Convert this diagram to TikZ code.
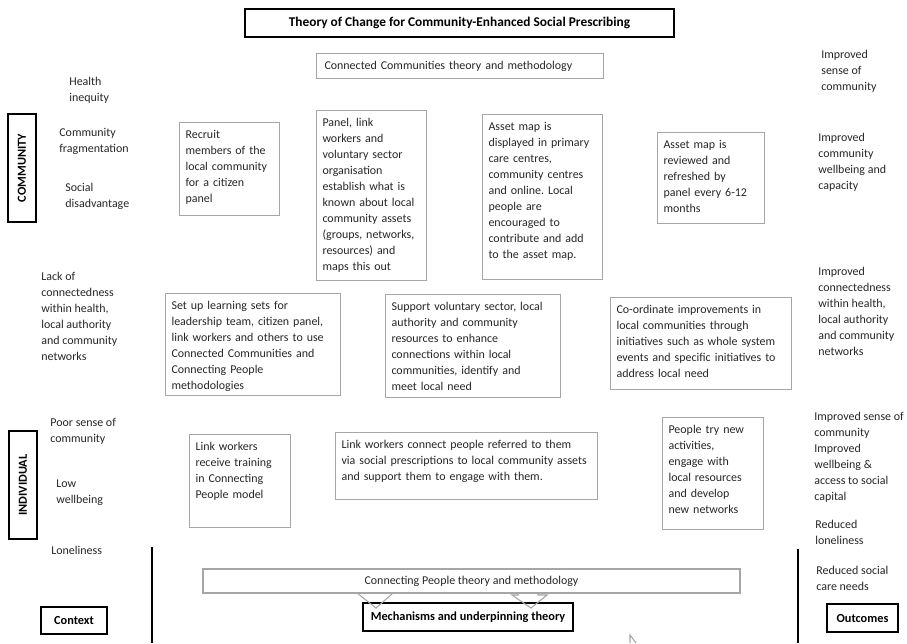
\documentclass[tikz,border=0pt]{standalone}
\usepackage{fontspec}
\setmainfont{Carlito}
\frenchspacing

\definecolor{boxgrey}{HTML}{A6A6A6}
\definecolor{inkgrey}{HTML}{262626}

\begin{document}
\begin{tikzpicture}
		[font=\fontsize{6.8}{9.1}\selectfont, text=inkgrey,
		block/.style ={rectangle, draw=boxgrey, line width=0.6pt, anchor=north west, align=left, inner xsep=0.12cm, inner ysep=0pt, text height=0.32cm},
		band/.style ={rectangle, draw=boxgrey, line width=0.6pt, minimum height=0.48cm},
		heading/.style ={rectangle, draw=black, line width=0.8pt, font=\fontsize{7}{9.1}\selectfont\bfseries, text=black, minimum height=0.56cm},
		level/.style = {heading, rotate=90, minimum width=2.16cm},
		factor/.style = {anchor=west, align=left, inner sep=0pt},
		arrowhead/.style = {draw=boxgrey, line width=0.6pt},
		divider/.style = {draw=black, line width=0.6pt},
		]

		\useasboundingbox (0,0) rectangle (18.14,-12.86);

		\draw (9.19,-0.46) node[heading, minimum width=8.58cm, font=\fontsize{7.6}{9.1}\selectfont\bfseries] (Title) {Theory of Change for Community-Enhanced Social Prescribing};
		\draw (6.32,-1.06) node[block, text width=5.50cm, text depth=0.18cm, inner xsep=0.12cm] (CCTheory) {\hspace{0.04cm}Connected Communities theory and methodology};

		\draw (0.44,-3.36) node[level] (Community) {COMMUNITY};
		\draw (0.46,-9.70) node[level] (Individual) {INDIVIDUAL};

		\draw (1.38,-1.80) node[factor] (inequity) {Health\\inequity};
		\draw (1.18,-2.82) node[factor] (fragmentation) {Community\\fragmentation};
		\draw (1.30,-3.92) node[factor] (disadvantage) {Social\\disadvantage};
		\draw (0.82,-6.32) node[factor] (disconnect) {Lack of\\connectedness\\within health,\\local authority\\and community\\networks};
		\draw (1.00,-8.63) node[factor] (poor-sense) {Poor sense of\\community};
		\draw (1.12,-9.86) node[factor] (low-wellbeing) {Low\\wellbeing};
		\draw (1.02,-11.00) node[factor] (loneliness) {Loneliness};

		\draw (3.58,-2.44) node[block, text width=1.76cm, text depth=1.54cm] (recruit) {Recruit\\members of the\\local community\\for a citizen\\panel};
		\draw (6.32,-2.20) node[block, text width=1.96cm, text depth=3.08cm] (map-out) {Panel, link\\workers and\\voluntary sector\\organisation\\establish what is\\known about local\\community assets\\(groups, networks,\\resources) and\\maps this out};
		\draw (9.64,-2.28) node[block, text width=2.16cm, text depth=2.98cm] (map-display) {Asset map is\\displayed in primary\\care centres,\\community centres\\and online. Local\\people are\\encouraged to\\contribute and add\\to the asset map.};
		\draw (13.14,-2.64) node[block, text width=1.90cm, text depth=1.50cm] (map-review) {Asset map is\\reviewed and\\refreshed by\\panel every 6-12\\months};

		\draw (3.30,-5.86) node[block, text width=3.26cm, text depth=1.72cm] (learning-sets) {Set up learning sets for\\leadership team, citizen panel,\\link workers and others to use\\Connected Communities and\\Connecting People\\methodologies};
		\draw (7.70,-5.88) node[block, text width=3.26cm, text depth=1.74cm] (support) {Support voluntary sector, local\\authority and community\\resources to enhance\\connections within local\\communities, identify and\\meet local need};
		\draw (12.20,-5.94) node[block, text width=3.38cm, text depth=1.52cm] (improvements) {Co-ordinate improvements in\\local communities through\\initiatives such as whole system\\events and specific initiatives to\\address local need};

		\draw (3.78,-8.68) node[block, text width=1.78cm, text depth=1.54cm] (training) {Link workers\\receive training\\in Connecting\\People model};
		\draw (6.70,-8.64) node[block, text width=5.00cm, text depth=1.02cm] (referral) {Link workers connect people referred to them\\via social prescriptions to local community assets\\and support them to engage with them.};
		\draw (13.24,-8.34) node[block, text width=1.78cm, text depth=1.92cm] (try-new) {People try new\\activities,\\engage with\\local resources\\and develop\\new networks};

		\draw (16.42,-1.42) node[factor] (sense) {Improved\\sense of\\community};
		\draw (16.36,-3.24) node[factor] (capacity) {Improved\\community\\wellbeing and\\capacity};
		\draw (16.36,-6.22) node[factor] (connectedness) {Improved\\connectedness\\within health,\\local authority\\and community\\networks};
		\draw (16.28,-9.14) node[factor] (capital) {Improved sense of\\community\\Improved\\wellbeing \&\\access to social\\capital};
		\draw (16.30,-10.64) node[factor] (less-lonely) {Reduced\\loneliness};
		\draw (16.32,-11.56) node[factor] (care-needs) {Reduced social\\care needs};

		\draw (9.43,-11.62) node[band, minimum width=10.74cm] (CPTheory) {Connecting People theory and methodology};
		\draw (1.48,-12.41) node[heading, minimum width=1.32cm, minimum height=0.54cm] (Context) {Context};
		\draw (9.36,-12.34) node[heading, minimum width=4.20cm] (Mechanisms) {Mechanisms and underpinning theory};
		\draw (17.25,-12.36) node[heading, minimum width=1.42cm] (Outcomes) {Outcomes};

		% arrow heads under the Connecting People band
		\draw[arrowhead] (7.14,-11.86) -- (7.52,-12.16) -- (7.86,-11.86);
		\draw[arrowhead] (10.36,-11.86) -- (10.36,-11.90) -- (10.24,-11.90) -- (10.62,-12.16) -- (10.94,-11.90) -- (10.76,-11.90) -- (10.76,-11.86);
		\draw[arrowhead] (12.60,-12.86) -- (12.60,-12.70) -- (12.72,-12.86);

		\draw[divider] (3.04,-10.94) -- (3.04,-12.86);
		\draw[divider] (15.96,-10.98) -- (15.96,-12.86);
	\end{tikzpicture}
\end{document}
